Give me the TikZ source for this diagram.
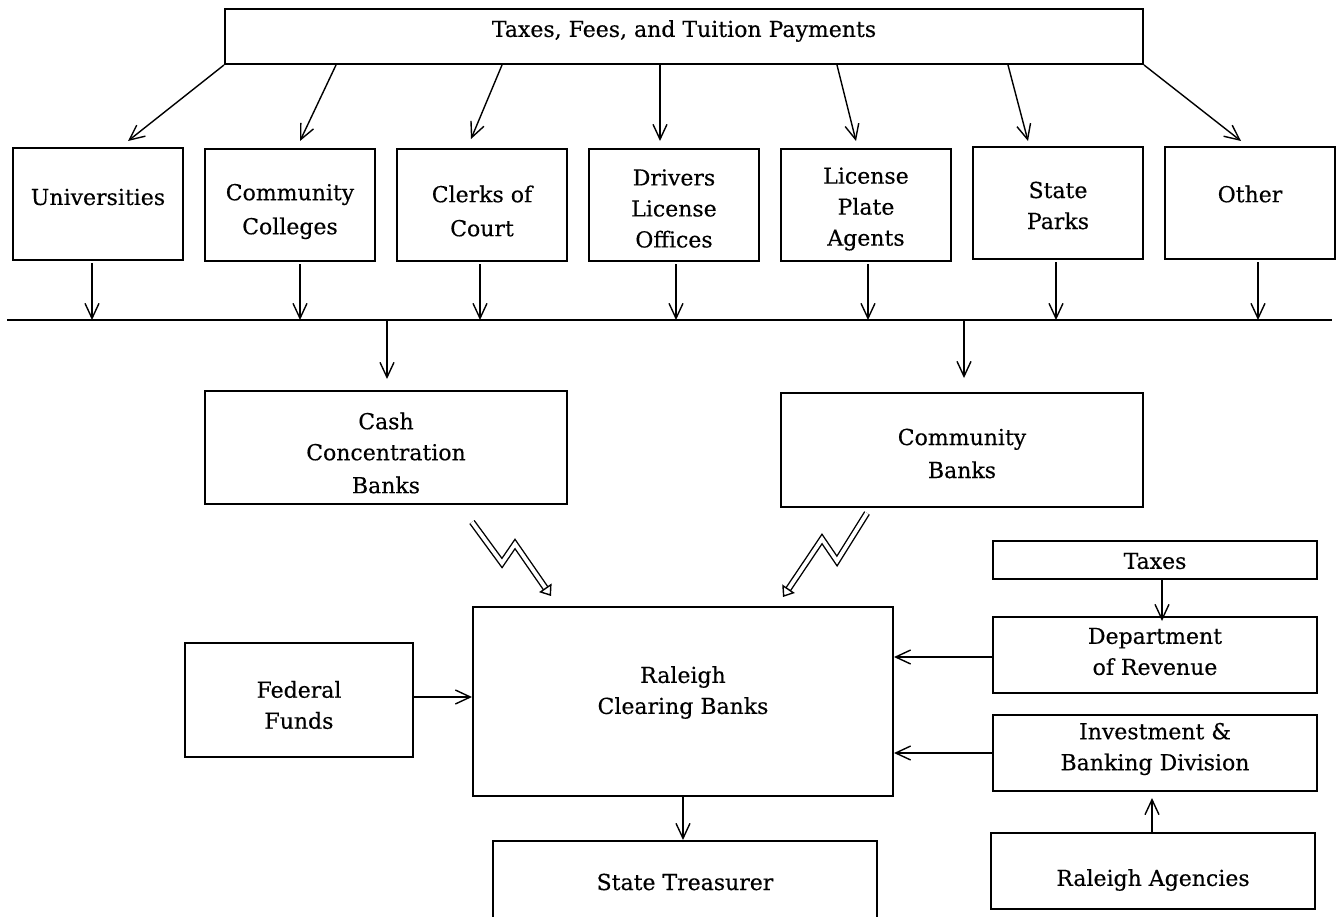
\documentclass[tikz,border=0pt]{standalone}
\usepackage{fontspec}
\setmainfont{DejaVu Serif}[FakeBold=0.35]
\usetikzlibrary{arrows.meta,calc,fit}

% a framed box given by its corners, with its label centred at height #6
\newcommand\flowbox[7]{%
  \node[box, fit={(#2,#3) (#4,#5)}] (#1) {};
  \node[lbl] (#1-text) at ({(#2+#4)/2},#6) {#7};
}

\begin{document}
\begin{tikzpicture}[x=0.5pt, y=-0.5pt,
  box/.style={draw, line width=1pt, inner sep=0pt},
  lbl/.style={align=center, inner sep=0pt, font=\fontsize{11}{15.5}\selectfont},
  arr/.style={line width=0.7pt, -{Straight Barb[length=7.5pt,width=7pt]}},
  wire/.style={line width=0.7pt},
  bolt/.style={line width=0.7pt, double=white, double distance=1.9pt, shorten >=4pt},
  bolttip/.style={white, line width=0.7pt,
    -{Triangle[length=5pt, width=7.5pt, color=black, fill=white]}},
]
\useasboundingbox (0,0) rectangle (1338,916);

% sources
\flowbox{top}{225}{9}{1143}{64}{31}{Taxes, Fees, and Tuition Payments}

\flowbox{uni}{13}{148}{183}{260}{197}{Universities}
\flowbox{cc}{205}{149}{375}{261}{211.5}{Community\\[1.5pt]Colleges}
\flowbox{clerks}{397}{149}{567}{261}{211}{Clerks of\\[1.5pt]Court}
\flowbox{drivers}{589}{149}{759}{261}{208.5}{Drivers\\License\\Offices}
\flowbox{lpa}{781}{149}{951}{261}{209}{License\\Plate\\Agents}
\flowbox{parks}{973}{147}{1143}{259}{205.5}{State\\Parks}
\flowbox{other}{1165}{147}{1335}{259}{194}{Other}

% banks
\flowbox{cash}{205}{391}{567}{504}{453}{Cash\\Concentration\\[1pt]Banks}
\flowbox{cbanks}{781}{393}{1143}{507}{453.5}{Community\\[1pt]Banks}
\flowbox{rcb}{473}{607}{893}{796}{692.5}{Raleigh\\Clearing Banks}
\flowbox{fed}{185}{643}{413}{757}{705}{Federal\\Funds}
\flowbox{st}{493}{841}{877}{940}{882}{State Treasurer}

% right-hand column
\flowbox{taxes}{993}{541}{1317}{579}{561}{Taxes}
\flowbox{dor}{993}{617}{1317}{693}{651.5}{Department\\of Revenue}
\flowbox{ibd}{993}{715}{1317}{791}{749}{Investment \&\\Banking Division}
\flowbox{ra}{991}{833}{1315}{909}{880}{Raleigh Agencies}

% fan-out from the payments box
\draw[arr] (top.south west) -- ($(uni.north west)+(116,-6)$);
\draw[arr] ($(top.south west)+(112,0)$) -- ($(cc.north west)+(96,-7)$);
\draw[arr] ($(top.south west)+(278,0)$) -- ($(clerks.north west)+(75,-9)$);
\draw[arr] ($(top.south west)+(436,0)$) -- ($(drivers.north west)+(72,-7)$);
\draw[arr] ($(top.south west)+(613,0)$) -- ($(lpa.north west)+(76,-7)$);
\draw[arr] ($(top.south west)+(784,0)$) -- ($(parks.north west)+(56,-5)$);
\draw[arr] (top.south east) -- ($(other.north west)+(77,-5)$);

% collecting line
\coordinate (busL) at (7,320);
\coordinate (busR) at (1332,320);
\draw[wire] (busL) -- (busR);

\draw[arr] ($(uni.south west)+(80,2)$) coordinate (s) -- (s |- busL);
\draw[arr] ($(cc.south west)+(96,2)$) coordinate (s) -- (s |- busL);
\draw[arr] ($(clerks.south west)+(84,2)$) coordinate (s) -- (s |- busL);
\draw[arr] ($(drivers.south west)+(88,2)$) coordinate (s) -- (s |- busL);
\draw[arr] ($(lpa.south west)+(88,2)$) coordinate (s) -- (s |- busL);
\draw[arr] ($(parks.south west)+(84,2)$) coordinate (s) -- (s |- busL);
\draw[arr] ($(other.south west)+(94,2)$) coordinate (s) -- (s |- busL);

% drops to the banks
\coordinate (cashin) at ($(cash.north west)+(183,-11)$);
\coordinate (cbin) at ($(cbanks.north west)+(184,-14)$);
\draw[arr] (cashin |- busL) -- (cashin);
\draw[arr] (cbin |- busL) -- (cbin);

% electronic transfers into the clearing banks
\coordinate (b1s) at ($(cash.south west)+(268,17)$);
\coordinate (b1a) at ($(cash.south west)+(298,58)$);
\coordinate (b1b) at ($(cash.south west)+(311,39)$);
\coordinate (b1t) at ($(rcb.north west)+(79,-10)$);
\draw[bolt] (b1s) -- (b1a) -- (b1b) -- (b1t);
\draw[bolttip] (b1b) -- (b1t);

\coordinate (b2s) at ($(cbanks.south west)+(87,5)$);
\coordinate (b2a) at ($(cbanks.south west)+(57,53)$);
\coordinate (b2b) at ($(cbanks.south west)+(42,31)$);
\coordinate (b2t) at ($(rcb.north east)+(-111,-9)$);
\draw[bolt] (b2s) -- (b2a) -- (b2b) -- (b2t);
\draw[bolttip] (b2b) -- (b2t);

% other flows
\draw[arr] ($(fed.north east)+(0,55)$) coordinate (s) -- (s -| rcb.west);
\draw[arr] ($(dor.north west)+(0,41)$) coordinate (s) -- (s -| rcb.east);
\draw[arr] ($(ibd.north west)+(0,39)$) coordinate (s) -- (s -| rcb.east);
\draw[arr, shorten >=-2.5pt] ($(taxes.south west)+(170,0)$) coordinate (s) -- (s |- dor.north);
\draw[arr, shorten >=3pt] ($(ra.north west)+(162,0)$) coordinate (s) -- (s |- ibd.south);
\draw[arr] ($(rcb.south west)+(211,0)$) coordinate (s) -- (s |- st.north);
\end{tikzpicture}
\end{document}
